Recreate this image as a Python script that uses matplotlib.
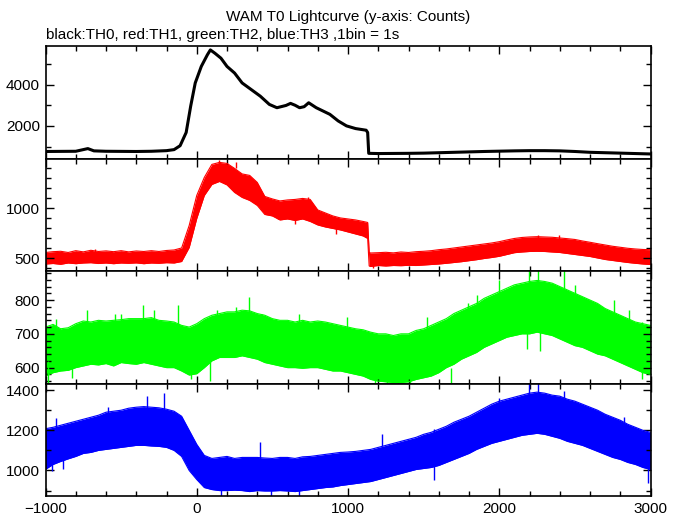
import matplotlib
matplotlib.use("Agg")
import matplotlib.pyplot as plt
from matplotlib.ticker import MultipleLocator

plt.rcParams["font.family"] = ["Liberation Sans", "DejaVu Sans"]

# ─── 数据（从图上读取的包络） ─────────────────────────────────────────────────
TITLE = "WAM T0 Lightcurve (y-axis: Counts)"
SUBTITLE = "black:TH0, red:TH1, green:TH2, blue:TH3 ,1bin = 1s"

# TH0 (black) - thin curve
t_th0 = [-1000, -900, -800, -720, -680, -600, -500, -400, -300, -200, -150,
         -110, -70, -40, -10, 30, 70, 90, 120, 160, 200, 250, 300, 360, 420,
         480, 530, 590, 620, 650, 680, 710, 740, 790, 880, 935, 990, 1050,
         1120, 1130, 1137, 1200, 1300, 1400, 1500, 1600, 1700, 1800, 1900,
         2000, 2100, 2200, 2300, 2400, 2500, 2600, 2700, 2800, 2900, 3000]
th0 = [760, 765, 770, 900, 790, 770, 765, 760, 770, 800, 850,
       1040, 1680, 2960, 4080, 4880, 5440, 5680, 5520, 5280, 4880, 4560, 4080, 3760, 3440,
       3040, 2880, 2990, 3090, 3000, 2880, 2930, 3120, 2880, 2560, 2240, 2000, 1870,
       1790, 1680, 670, 660, 665, 670, 680, 700, 720, 740, 760,
       775, 790, 800, 800, 790, 760, 720, 700, 680, 660, 640]

# TH1 (red) - noisy band, low / high envelope
t_th1 = [-1000, -950, -900, -850, -800, -750, -700, -650, -600, -550, -500,
         -450, -400, -350, -300, -250, -200, -150, -100, -50, 0, 50, 100,
         150, 200, 250, 300, 350, 400, 450, 500, 550, 600, 650, 700, 750,
         800, 850, 900, 950, 1000, 1050, 1100, 1130, 1140, 1150, 1200, 1250,
         1300, 1350, 1400, 1450, 1500, 1550, 1600, 1650, 1700, 1750, 1800,
         1850, 1900, 1950, 2000, 2050, 2100, 2150, 2200, 2250, 2300, 2350,
         2400, 2450, 2500, 2550, 2600, 2650, 2700, 2750, 2800, 2850, 2900,
         2950, 3000]
th1_lo = [445, 450, 442, 455, 448, 455, 458, 450, 455, 448, 455,
          452, 456, 448, 455, 452, 458, 455, 470, 610, 900, 1130, 1240,
          1270, 1235, 1160, 1110, 1080, 1030, 940, 925, 885, 895, 880, 895, 870,
          835, 815, 800, 785, 765, 745, 725, 700, 425, 420, 430, 425,
          430, 428, 432, 430, 435, 440, 445, 452, 460, 468, 478,
          488, 500, 510, 522, 540, 558, 565, 570, 572, 570, 565,
          560, 550, 540, 530, 520, 505, 490, 480, 470, 460, 452,
          445, 440]
th1_hi = [560, 568, 572, 560, 578, 566, 582, 570, 576, 568, 578,
          566, 575, 570, 578, 570, 580, 585, 605, 830, 1130, 1310, 1440,
          1460, 1450, 1400, 1345, 1330, 1260, 1120, 1095, 1075, 1085, 1090, 1100, 1090,
          985, 955, 925, 905, 895, 885, 870, 860, 560, 555, 558, 562,
          556, 565, 560, 568, 572, 578, 588, 595, 605, 615, 625,
          635, 645, 655, 668, 685, 700, 710, 715, 718, 715, 712,
          705, 698, 690, 675, 662, 648, 635, 622, 612, 602, 595,
          590, 588]
# single-bin spikes sticking out of the band: time, base, tip
th1_spk_t = [-670, 147, 262, 735, 2254, 2398, 290, 534, 648, 921, 1165]
th1_spk_base = [560, 1400, 1400, 1050, 690, 690, 1300, 1000, 950, 850, 480]
th1_spk_tip = [590, 1485, 1468, 1110, 736, 736, 1215, 895, 845, 748, 405]

# TH2 / TH3 share one time grid
t_grid = [-1000, -950, -900, -850, -800, -750, -700, -650, -600, -550, -500,
          -450, -400, -350, -300, -250, -200, -150, -100, -50, 0, 50, 100,
          150, 200, 250, 300, 350, 400, 450, 500, 550, 600, 650, 700, 750,
          800, 850, 900, 950, 1000, 1050, 1100, 1150, 1200, 1250, 1300, 1350,
          1400, 1450, 1500, 1550, 1600, 1650, 1700, 1750, 1800, 1850, 1900,
          1950, 2000, 2050, 2100, 2150, 2200, 2250, 2300, 2350, 2400, 2450,
          2500, 2550, 2600, 2650, 2700, 2750, 2800, 2850, 2900, 2950, 3000]

th2_lo = [575, 585, 590, 592, 600, 605, 610, 608, 612, 605, 615,
          612, 610, 615, 610, 605, 600, 600, 590, 578, 582, 600, 620,
          630, 630, 630, 635, 630, 625, 615, 610, 605, 600, 600, 598, 600,
          600, 595, 590, 590, 585, 580, 575, 565, 560, 558, 556, 556,
          558, 565, 570, 575, 585, 600, 610, 625, 635, 645, 660,
          670, 680, 690, 695, 700, 700, 705, 700, 695, 685, 675,
          665, 660, 650, 640, 635, 625, 615, 605, 595, 585, 580]
th2_hi = [720, 728, 715, 718, 730, 738, 735, 740, 738, 740, 742,
          745, 745, 745, 748, 740, 738, 735, 725, 720, 730, 745, 755,
          760, 765, 765, 770, 768, 760, 755, 745, 740, 740, 735, 740, 735,
          738, 735, 730, 725, 720, 715, 712, 705, 700, 700, 695, 700,
          700, 710, 715, 725, 735, 745, 760, 770, 780, 790, 805,
          815, 825, 835, 845, 850, 855, 858, 855, 850, 840, 830,
          820, 810, 800, 790, 775, 765, 755, 745, 735, 730, 725]
th2_spk_t = [-928, -728, -541, -498, -355, -283, -125, 133, 262, 348, 434,
             677, 993, 1523, 1796, 1853, 1996, 2197, 2254, 2427, 2498, 2756,
             2857, 2943,
             -986, -828, -39, 90, 1180, 1260, 1330, 1410, 1681, 2183, 2269, 2943]
th2_spk_base = [700, 710, 720, 720, 720, 720, 710, 730, 740, 740, 730,
                710, 700, 690, 760, 780, 800, 830, 830, 820, 810, 760,
                730, 700,
                620, 620, 610, 630, 590, 590, 590, 590, 600, 720, 720, 610]
th2_spk_tip = [745, 770, 760, 760, 785, 770, 785, 770, 780, 810, 760,
               760, 750, 750, 790, 815, 860, 890, 890, 890, 845, 800,
               770, 735,
               555, 570, 565, 560, 552, 552, 552, 552, 555, 655, 650, 565]

th3_lo = [1006, 1030, 1045, 1058, 1070, 1085, 1090, 1100, 1105, 1110, 1115,
          1120, 1125, 1125, 1122, 1120, 1115, 1100, 1070, 1000, 955, 915, 905,
          900, 900, 902, 900, 895, 900, 898, 898, 900, 898, 895, 900, 905,
          910, 915, 918, 925, 930, 935, 940, 945, 955, 965, 975, 985,
          995, 1005, 1010, 1015, 1025, 1040, 1055, 1070, 1085, 1105, 1120,
          1135, 1145, 1155, 1165, 1175, 1180, 1185, 1180, 1170, 1160, 1145,
          1135, 1125, 1110, 1095, 1080, 1065, 1055, 1040, 1030, 1015, 1005]
th3_hi = [1208, 1215, 1225, 1235, 1245, 1255, 1265, 1275, 1290, 1295, 1300,
          1310, 1315, 1318, 1315, 1312, 1305, 1295, 1270, 1200, 1130, 1075, 1060,
          1065, 1070, 1060, 1065, 1065, 1065, 1062, 1060, 1065, 1065, 1060, 1068, 1070,
          1075, 1080, 1085, 1090, 1092, 1095, 1100, 1105, 1115, 1125, 1135, 1145,
          1155, 1165, 1180, 1190, 1205, 1220, 1240, 1255, 1270, 1290, 1310,
          1330, 1345, 1355, 1365, 1375, 1385, 1390, 1385, 1375, 1370, 1355,
          1345, 1330, 1315, 1300, 1280, 1265, 1250, 1230, 1215, 1200, 1190]
th3_spk_t = [-928, -584, -326, -217, 419, 1222, 1566, 1796, 1996, 2197, 2254,
             2427, 2828,
             -957, -885, 161, 491, 677, 1566, 2983]
th3_spk_base = [1200, 1260, 1300, 1300, 1050, 1120, 1170, 1220, 1320, 1370, 1370,
                1360, 1220,
                1080, 1080, 950, 950, 950, 1050, 1080]
th3_spk_tip = [1259, 1318, 1369, 1386, 1141, 1183, 1208, 1250, 1360, 1436, 1436,
               1394, 1268,
               997, 1006, 874, 874, 874, 955, 938]


# ─── 绘图 ──────────────────────────────────────────────────────────────────────

def style_axis(ax, ylim, major, minor):
    ax.set_xlim(-1000, 3000)
    ax.set_ylim(*ylim)
    ax.xaxis.set_major_locator(MultipleLocator(1000))
    ax.xaxis.set_minor_locator(MultipleLocator(200))
    ax.yaxis.set_major_locator(MultipleLocator(major))
    ax.yaxis.set_minor_locator(MultipleLocator(minor))
    ax.tick_params(which="both", direction="in", top=True, right=True,
                   width=1.0, labelsize=11, pad=4)
    ax.tick_params(which="major", length=6)
    ax.tick_params(which="minor", length=3.5)
    for s in ax.spines.values():
        s.set_linewidth(1.2)


def band(ax, t, lo, hi, color, spk_t, spk_base, spk_tip):
    ax.fill_between(t, lo, hi, color=color, lw=0)
    ax.plot(t, lo, color=color, lw=0.8)
    ax.plot(t, hi, color=color, lw=0.8)
    ax.vlines(spk_t, spk_base, spk_tip, color=color, lw=1.0)


fig = plt.figure(figsize=(6.8, 5.15), dpi=100)
W, H = 680.0, 515.0
left, right, top, bottom = 45.5, 650.5, 46.0, 496.0
ph = (bottom - top) / 4

axes = []
for i in range(4):
    ax = fig.add_axes([left / W, 1 - (top + (i + 1) * ph) / H,
                       (right - left) / W, ph / H])
    axes.append(ax)

ax1, ax2, ax3, ax4 = axes
ax1.plot(t_th0, th0, color="black", lw=2.2)
style_axis(ax1, (420, 5870), 2000, 1000)

band(ax2, t_th1, th1_lo, th1_hi, "#ff0000", th1_spk_t, th1_spk_base, th1_spk_tip)
style_axis(ax2, (375, 1499), 500, 100)

band(ax3, t_grid, th2_lo, th2_hi, "#00ff00", th2_spk_t, th2_spk_base, th2_spk_tip)
style_axis(ax3, (553, 886), 100, 20)

band(ax4, t_grid, th3_lo, th3_hi, "#0000ff", th3_spk_t, th3_spk_base, th3_spk_tip)
style_axis(ax4, (873, 1433), 200, 100)

for ax in axes[:3]:
    ax.tick_params(labelbottom=False)

fig.text((left + right) / 2 / W, 1 - 17 / H, TITLE, ha="center", va="center", fontsize=11)
fig.text(left / W, 1 - 35 / H, SUBTITLE, ha="left", va="center", fontsize=11)

fig.savefig("out.png", dpi=100)
